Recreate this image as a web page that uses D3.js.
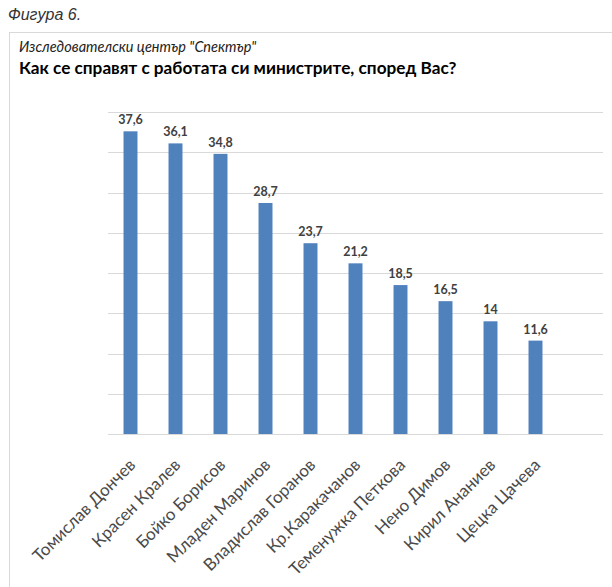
<!DOCTYPE html>
<html><head><meta charset="utf-8">
<script src="https://cdn.jsdelivr.net/npm/d3@7"></script>
<style>body{margin:0;background:#fff}svg{display:block}</style>
</head><body>
<script>
const categories = ["Томислав Дончев","Красен Кралев","Бойко Борисов","Младен Маринов","Владислав Горанов","Кр.Каракачанов","Теменужка Петкова","Нено Димов","Кирил Ананиев","Цецка Цачева"];
const values = [37.6,36.1,34.8,28.7,23.7,21.2,18.5,16.5,14,11.6];
const valueLabels = ["37,6","36,1","34,8","28,7","23,7","21,2","18,5","16,5","14","11,6"];
const yTicks = [0,5,10,15,20,25,30,35,40];

const W=612,H=587;
const svg=d3.select("body").append("svg").attr("width",W).attr("height",H);
svg.append("rect").attr("x",9.5).attr("y",32.5).attr("width",W+10).attr("height",H+10).attr("fill","none").attr("stroke","#d9d9d9");
svg.append("text").attr("x",8).attr("y",20).attr("font-family","Liberation Sans").attr("font-style","italic").attr("font-size",16).attr("fill","#333").text("Фигура 6.");
svg.append("text").attr("x",19).attr("y",52).attr("font-family","Lato").attr("font-style","italic").attr("font-size",14.5).attr("fill","#222").text("Изследователски център \"Спектър\"");
svg.append("text").attr("x",19).attr("y",74).attr("font-family","Lato").attr("font-weight","bold").attr("font-size",17.2).attr("fill","#000").text("Как се справят с работата  си министрите, според Вас?");

const left=108, step=45, right=603;
const x=d3.scaleBand().domain(categories).range([left,left+step*categories.length]).paddingInner(0.69).paddingOuter(0.345);
const y=d3.scaleLinear().domain([0,40]).range([434,112]);

const g=svg.append("g");
g.selectAll("line.grid").data(yTicks).join("line").attr("class","grid")
 .attr("x1",left).attr("x2",right).attr("y1",d=>Math.round(y(d))+0.5).attr("y2",d=>Math.round(y(d))+0.5)
 .attr("stroke","#d9d9d9").attr("stroke-width",1);

g.selectAll("rect.bar").data(values).join("rect").attr("class","bar")
 .attr("x",(d,i)=>x(categories[i])).attr("width",x.bandwidth())
 .attr("y",d=>y(d)).attr("height",d=>y(0)-y(d)).attr("fill","#4f81bd");

g.selectAll("text.val").data(values).join("text").attr("class","val")
 .attr("x",(d,i)=>x(categories[i])+x.bandwidth()/2).attr("y",d=>y(d)-7)
 .attr("text-anchor","middle").attr("font-family","Lato").attr("font-weight","bold").attr("font-size",12.5).attr("fill","#404040")
 .text((d,i)=>valueLabels[i]);

g.selectAll("text.cat").data(categories).join("text").attr("class","cat")
 .attr("transform",d=>`translate(${x(d)+x.bandwidth()/2+6},${y(0)+32}) rotate(-45)`)
 .attr("text-anchor","end").attr("font-family","Lato").attr("font-size",17).attr("fill","#4a4a4a")
 .text(d=>d);
</script>
</body></html>
